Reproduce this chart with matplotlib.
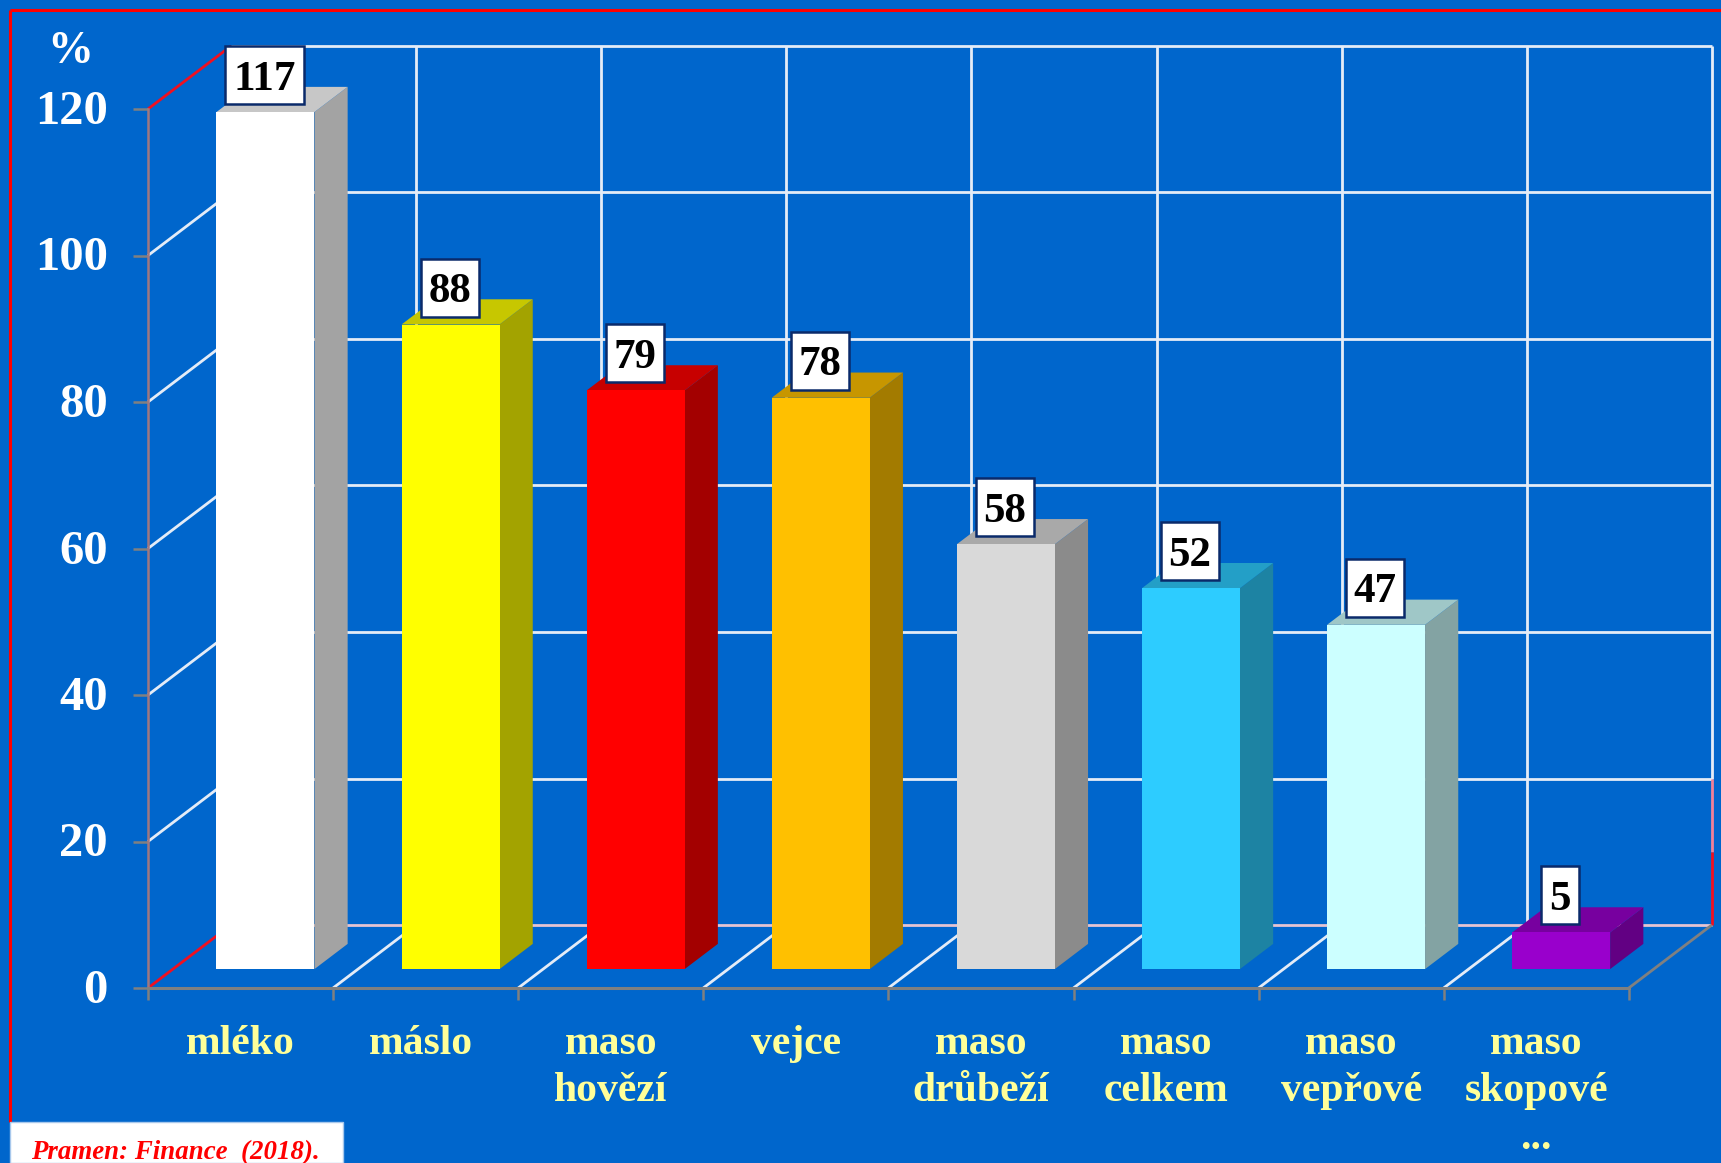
import matplotlib
matplotlib.use("Agg")
import matplotlib.pyplot as plt
from matplotlib.patches import Polygon, Rectangle
from matplotlib.transforms import ScaledTranslation

categories = ["mléko", "máslo", "maso\nhovězí", "vejce", "maso\ndrůbeží",
              "maso\ncelkem", "maso\nvepřové", "maso\nskopové\n..."]
values = [117, 88, 79, 78, 58, 52, 47, 5]
bar_colors = ["#FFFFFF", "#FFFF00", "#FF0000", "#FFC000",
              "#D9D9D9", "#2DCCFF", "#CCFFFF", "#9900CC"]
y_ticks = [0, 20, 40, 60, 80, 100, 120]
source = "Pramen: Finance  (2018)."

W, H = 1721, 1163
X0, Y0 = 148, 988        # pixel of the front corner
XSTEP, YSTEP = 185.1, 7.325   # px per category, px per percent
BG = "#0066CC"
GRID = "#E4ECF7"
AXIS = "#808080"
RED = "#F01020"

plt.rcParams["font.family"] = ["Liberation Serif", "DejaVu Serif"]
plt.rcParams["font.weight"] = "bold"

fig = plt.figure(figsize=(W / 100, H / 100), dpi=100, facecolor=BG)
ax = fig.add_axes([0, 0, 1, 1], facecolor=BG)
ax.set_xlim(-X0 / XSTEP, (W - X0) / XSTEP)
ax.set_ylim(-(H - Y0) / YSTEP, Y0 / YSTEP)

# depth of the floor, in data units
DX = 83 / XSTEP
DY = 63 / YSTEP


def proj(x, y, d):
    return x + d * DX, y + d * DY


def shade(col, f):
    rgb = matplotlib.colors.to_rgb(col)
    return tuple(c * f for c in rgb)


def line3(x1, y1, d1, x2, y2, d2, color=GRID, lw=2, z=1):
    a = proj(x1, y1, d1)
    b = proj(x2, y2, d2)
    ax.plot([a[0], b[0]], [a[1], b[1]], color=color, lw=lw, zorder=z,
            solid_capstyle="butt")


n = len(values)
top = y_ticks[-1]

# back wall and left wall
for v in y_ticks:
    col = RED if v in (0, top) else GRID
    line3(0, v, 0, 0, v, 1, color=col)
    if v == 0:
        line3(0, v, 1, n, v, 1, color="#E6C4D2")
    else:
        line3(0, v, 1, n, v, 1)
for i in range(n):
    line3(i, 0, 1, i, top, 1)
    if i > 0:
        line3(i, 0, 0, i, 0, 1)
line3(n, 20, 1, n, top, 1)
line3(n, 10, 1, n, 20, 1, color="#F08098")
line3(n, 0, 1, n, 10, 1, color=RED)
line3(n, 0, 0, n, 0, 1, color=AXIS, lw=2)

# bars
bar_w = 98 / XSTEP
d_front, d_back = 0.3, 0.7
for i, v in enumerate(values):
    x1 = i + 0.5 - bar_w / 2
    x2 = i + 0.5 + bar_w / 2
    front = [proj(x1, 0, d_front), proj(x2, 0, d_front),
             proj(x2, v, d_front), proj(x1, v, d_front)]
    side = [proj(x2, 0, d_front), proj(x2, 0, d_back),
            proj(x2, v, d_back), proj(x2, v, d_front)]
    roof = [proj(x1, v, d_front), proj(x2, v, d_front),
            proj(x2, v, d_back), proj(x1, v, d_back)]
    col = bar_colors[i]
    ax.add_patch(Polygon(side, fc=shade(col, 0.64), ec="none", zorder=3))
    ax.add_patch(Polygon(roof, fc=shade(col, 0.78), ec="none", zorder=3))
    ax.add_patch(Polygon(front, fc=col, ec="none", zorder=4))

    # value label box, 58 px high
    lx, ly = proj(i + 0.5, v, d_front)
    lx -= 1 / XSTEP
    ly += 37 / YSTEP
    bw = (20.5 * len(str(v)) + 17) / XSTEP
    bh = 58 / YSTEP
    ax.add_patch(Rectangle((lx - bw / 2, ly - bh / 2), bw, bh, fc="white",
                           ec="#0A2A6A", lw=1.8, zorder=5))
    ax.text(lx, ly, str(v), fontsize=31, color="black",
            ha="center", va="center_baseline", zorder=6)

# axes
for s in ("top", "right"):
    ax.spines[s].set_visible(False)
for s in ("left", "bottom"):
    ax.spines[s].set_position(("data", 0))
    ax.spines[s].set_zorder(2)
ax.spines["left"].set_bounds(0, top)
ax.spines["left"].set_color("#A07880")
ax.spines["left"].set_linewidth(1.8)
ax.spines["bottom"].set_bounds(0, n)
ax.spines["bottom"].set_color(AXIS)
ax.spines["bottom"].set_linewidth(2.2)

ax.set_yticks(y_ticks)
ax.set_yticklabels([str(v) for v in y_ticks], fontsize=35, color="white", va="center_baseline")
ax.tick_params(axis="y", direction="out", length=11, width=1.8, color=AXIS, pad=18)
for lab in ax.get_yticklabels():
    lab.set_transform(lab.get_transform() + ScaledTranslation(0, 2 / 100, fig.dpi_scale_trans))

ax.set_xticks(range(n + 1))
ax.set_xticklabels([])
ax.tick_params(axis="x", which="major", direction="out", length=8.5, width=1.8, color=AXIS)
ax.set_xticks([i + 0.5 for i in range(n)], minor=True)
ax.set_xticklabels(categories, minor=True, fontsize=30, color="#FFFF99", linespacing=1.33)
ax.tick_params(axis="x", which="minor", length=0, pad=26.5)
# máslo sits a little left of its slot
lab = ax.get_xticklabels(minor=True)[1]
lab.set_transform(lab.get_transform() + ScaledTranslation(-5 / 100, 0, fig.dpi_scale_trans))

# red frame
ax.plot([10 / W, 10 / W], [1 - 1122 / H, 1 - 10 / H], transform=ax.transAxes,
        color="#FF0000", lw=2.2, zorder=2, solid_capstyle="butt")
ax.plot([10 / W, 1], [1 - 10 / H, 1 - 10 / H], transform=ax.transAxes,
        color="#FF0000", lw=2.2, zorder=2, solid_capstyle="butt")

ax.text(70 / W, 1 - 52 / H, "%", transform=ax.transAxes, fontsize=33, color="white",
        ha="center", va="center")

# source box
ax.add_patch(Rectangle((10 / W, 0), 333 / W, 41 / H, transform=ax.transAxes,
                       fc="white", ec="#A8C8EC", lw=1, zorder=5))
ax.text(31 / W, 1 - 1153 / H, source, transform=ax.transAxes, fontsize=19.4,
        style="italic", color="#FF0000", ha="left", va="center", zorder=6)

fig.savefig("out.png", dpi=100, facecolor=BG)
